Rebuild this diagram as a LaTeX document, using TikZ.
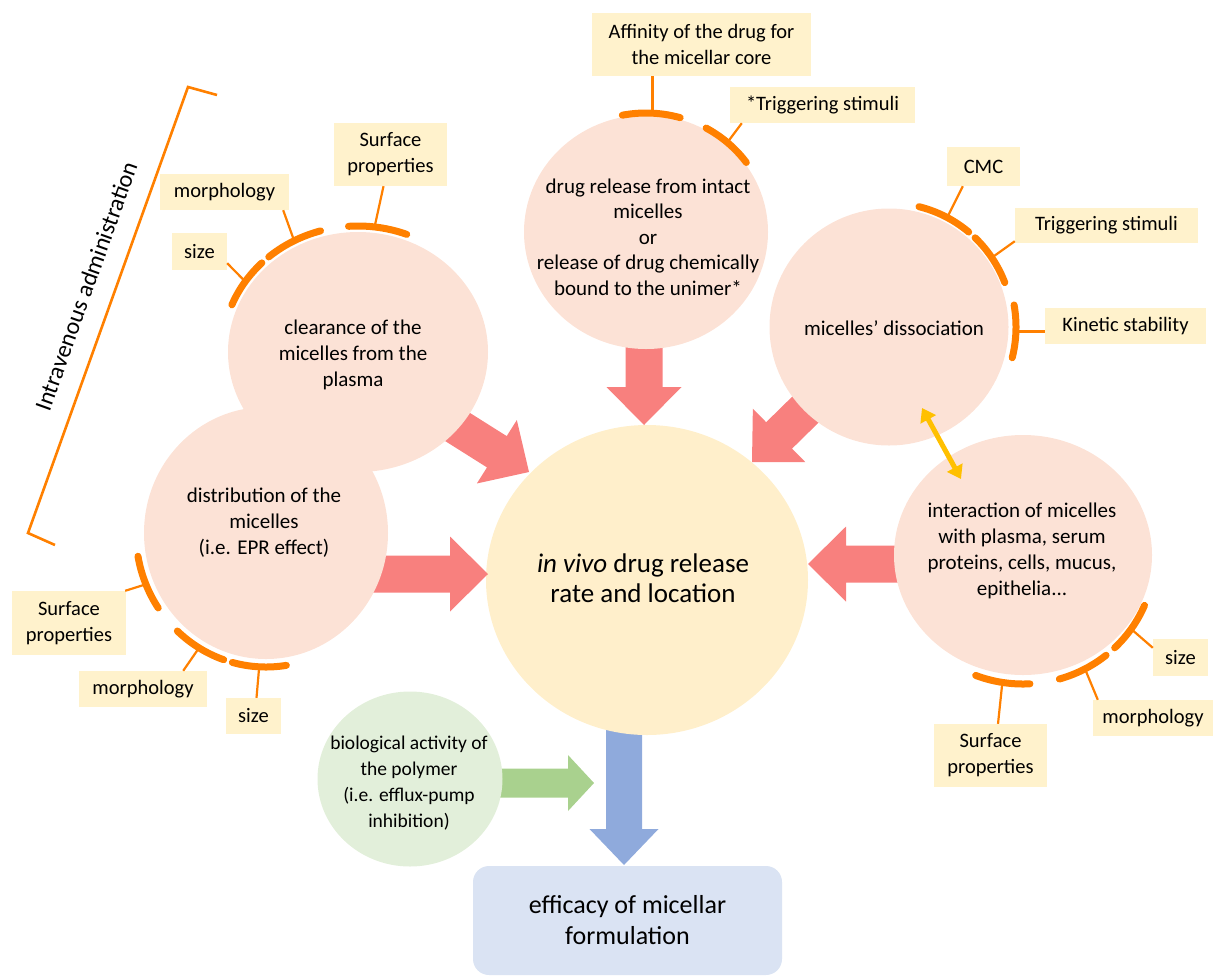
\documentclass[tikz,border=0pt]{standalone}
\usepackage{fontspec}
\setmainfont{Carlito}
\usetikzlibrary{shapes.geometric,arrows.meta,calc}
\definecolor{pinkc}{RGB}{252,226,214}
\definecolor{centc}{RGB}{255,239,203}
\definecolor{labc}{RGB}{255,242,204}
\definecolor{greenc}{RGB}{226,239,218}
\definecolor{bluec}{RGB}{218,227,243}
\definecolor{redarr}{RGB}{248,128,126}
\definecolor{grnarr}{RGB}{169,209,142}
\definecolor{bluarr}{RGB}{143,170,220}
\definecolor{orng}{RGB}{255,128,0}
\definecolor{yelarr}{RGB}{255,192,0}
\pgfdeclarelayer{lzero}\pgfdeclarelayer{lone}\pgfdeclarelayer{ltwo}
\pgfsetlayers{lzero,lone,ltwo,main}
% block arrow: #1 colour, #2 tail, #3 tip, #4 half shaft, #5 half head, #6 head length
\newcommand{\blockarrow}[6]{%
  \pgfmathanglebetweenpoints{\pgfpointanchor{#2}{center}}{\pgfpointanchor{#3}{center}}%
  \edef\baang{\pgfmathresult}%
  \pgfpointdiff{\pgfpointanchor{#2}{center}}{\pgfpointanchor{#3}{center}}%
  \pgfgetlastxy{\bax}{\bay}%
  \pgfmathsetmacro{\balen}{veclen(\bax,\bay)}%
  \begin{scope}[shift={(#3)},rotate=\baang]
    \fill[#1] (0,0) -- (-#6,#5) -- (-#6,#4) -- (-\balen,#4) -- (-\balen,-#4) -- (-#6,-#4) -- (-#6,-#5) -- cycle;
  \end{scope}}
% orange arc: cx, cy, rx, ry, a1, a2 (image angles)
\newcommand{\orarc}[6]{%
  \draw[arcst] plot[domain=#5:#6, samples=25, variable=\t] ({#1+#3*cos(\t)},{#2+#4*sin(\t)});}
\begin{document}
\begin{tikzpicture}[x=1pt,y=-1pt,
  bubble/.style={ellipse, fill=pinkc, draw=none, inner sep=0pt},
  ctext/.style={align=center, inner sep=0pt, font=\fontsize{21}{26}\selectfont},
  lab/.style={fill=labc, inner sep=0pt, align=center, font=\fontsize{20.5}{26}\selectfont},
  arcst/.style={draw=orng, line width=7pt, line cap=round, line join=round},
  lnk/.style={draw=orng, line width=2.2pt},
  brk/.style={draw=orng, line width=2.6pt, line join=miter},
  yarr/.style={draw=yelarr, line width=5pt, {Triangle[length=13pt,width=17pt]}-{Triangle[length=13pt,width=17pt]}}]
\useasboundingbox (0,0) rectangle (1213,975);

% ---------- lowest layers: blue arrow, central circle, block arrows
\begin{pgfonlayer}{lzero}
  \coordinate (bT) at (624,690);
  \coordinate (bH) at (624,865);
  \blockarrow{bluarr}{bT}{bH}{18}{34.5}{36}
\end{pgfonlayer}
\begin{pgfonlayer}{lone}
  \node[bubble, fill=centc, minimum width=322pt, minimum height=310pt] (core) at (647,580) {};
\end{pgfonlayer}
\begin{pgfonlayer}{ltwo}
  \coordinate (a1t) at (402,392); \coordinate (a1h) at (529,472);
  \coordinate (a2t) at (320,574); \coordinate (a2h) at (488,574);
  \coordinate (a3t) at (644,290); \coordinate (a3h) at (644,425);
  \coordinate (a4t) at (859,357); \coordinate (a4h) at (752,462);
  \coordinate (a5t) at (960,564); \coordinate (a5h) at (808,564);
  \coordinate (g1t) at (420,783); \coordinate (g1h) at (594,783);
  \blockarrow{redarr}{a1t}{a1h}{18.5}{37.5}{38}
  \blockarrow{redarr}{a2t}{a2h}{18.5}{37.5}{38}
  \blockarrow{redarr}{a3t}{a3h}{18.5}{37.5}{38}
  \blockarrow{redarr}{a4t}{a4h}{18.5}{37.5}{38}
  \blockarrow{redarr}{a5t}{a5h}{18.5}{37.5}{38}
  \blockarrow{grnarr}{g1t}{g1h}{14.5}{28}{26}
\end{pgfonlayer}

% ---------- circles
\node[bubble, minimum width=260pt, minimum height=240pt] (clear) at (358,352) {};
\node[bubble, minimum width=244pt, minimum height=252pt] (distr) at (266,533) {};
\node[bubble, minimum width=244pt, minimum height=234pt] (drug) at (646,232) {};
\node[bubble, minimum width=239pt, minimum height=237pt] (diss) at (889,327) {};
\node[bubble, minimum width=258pt, minimum height=240pt] (inter) at (1023,555) {};
\node[bubble, fill=greenc, minimum width=185pt, minimum height=175pt] (bio) at (410,779) {};
\node[fill=bluec, rounded corners=16pt, minimum width=309pt, minimum height=109pt, inner sep=0pt,
      align=center, font=\fontsize{26}{31}\selectfont] (eff) at (627.5,920.5) {efficacy of micellar\\formulation};

% ---------- circle texts
\node[ctext] (clear-t) at (353,355) {clearance of the\\micelles from the\\plasma};
\node[ctext] (distr-t) at (264,523) {distribution of the\\micelles\\(i.e. EPR effect)};
\node[ctext, font=\fontsize{21}{25.5}\selectfont] (drug-t) at (648,237) {drug release from intact\\micelles\\or\\release of drug chemically\\bound to the unimer*};
\node[ctext] (diss-t) at (894,328) {micelles’ dissociation};
\node[ctext] (inter-t) at (1022,551) {interaction of micelles\\with plasma, serum\\proteins, cells, mucus,\\epithelia...};
\node[ctext, font=\fontsize{19.5}{26}\selectfont] (bio-t) at (409,783) {biological activity of\\the polymer\\(i.e. efflux-pump\\inhibition)};
\node[ctext, font=\fontsize{27}{30}\selectfont] (core-t) at (643,578) {\textit{in vivo} drug release\\rate and location};

% ---------- yellow double arrow
\coordinate (y1) at (922,408);
\coordinate (y2) at (961,479);
\draw[yarr] (y1) -- (y2);

% ---------- bracket and its label
\draw[brk] (217,95) -- (188,87) -- (28,533) -- (55,545);
\node[rotate=70.3, inner sep=0pt, font=\fontsize{24}{28}\selectfont] (iv) at (86,286) {Intravenous administration};

% ---------- orange arcs
\orarc{646}{233}{124}{120}{-101}{-74}
\orarc{646}{233}{124}{120}{-61}{-36}
\orarc{358}{352}{136}{126}{-94}{-69}
\orarc{358}{352}{136}{126}{-131}{-106}
\orarc{358}{352}{136}{126}{-158}{-135}
\orarc{889}{327}{124}{124}{-76}{-50}
\orarc{889}{327}{124}{124}{-46}{-21}
\orarc{889}{327}{127}{127}{-10}{14}
\orarc{266}{533}{130}{134}{146}{170}
\orarc{266}{533}{130}{134}{109}{133}
\orarc{266}{533}{130}{134}{81}{105}
\orarc{1023}{555}{132}{129}{23}{46}
\orarc{1023}{555}{132}{129}{51}{74}
\orarc{1023}{555}{132}{129}{87}{111}

% ---------- attach points on the arcs
\coordinate (affA) at ({646+124*cos(-87)},{233+120*sin(-87)});
\coordinate (trgA) at ({646+124*cos(-49)},{233+120*sin(-49)});
\coordinate (srfCA) at ({358+136*cos(-83)},{352+126*sin(-83)});
\coordinate (mrCA) at ({358+136*cos(-118)},{352+126*sin(-118)});
\coordinate (szCA) at ({358+136*cos(-146)},{352+126*sin(-146)});
\coordinate (cmcA) at ({889+124*cos(-62)},{327+124*sin(-62)});
\coordinate (trg2A) at ({889+124*cos(-34)},{327+124*sin(-34)});
\coordinate (kinA) at ({889+127*cos(2)},{327+127*sin(2)});
\coordinate (srfDA) at ({266+130*cos(157.5)},{533+134*sin(157.5)});
\coordinate (mrDA) at ({266+130*cos(121)},{533+134*sin(121)});
\coordinate (szDA) at ({266+130*cos(93)},{533+134*sin(93)});
\coordinate (szIA) at ({1023+132*cos(35)},{555+129*sin(35)});
\coordinate (mrIA) at ({1023+132*cos(62)},{555+129*sin(62)});
\coordinate (srfIA) at ({1023+132*cos(99)},{555+129*sin(99)});

% ---------- label boxes
\node[lab, minimum width=219pt, minimum height=63pt] (aff) at (701.5,44.5) {Affinity of the drug for\\the micellar core};
\node[lab, minimum width=185pt, minimum height=36pt] (trgD) at (822.5,105) {*Triggering stimuli};
\node[lab, minimum width=113pt, minimum height=63pt] (srfC) at (390.5,154.5) {Surface\\properties};
\node[lab, minimum width=129pt, minimum height=36pt] (mrC) at (224.5,192) {morphology};
\node[lab, minimum width=55pt, minimum height=37pt] (szC) at (199.5,251.5) {size};
\node[lab, minimum width=73pt, minimum height=39pt] (cmc) at (983.5,166.5) {CMC};
\node[lab, minimum width=183pt, minimum height=35pt] (trgS) at (1106.5,225.5) {Triggering stimuli};
\node[lab, minimum width=161pt, minimum height=36pt] (kin) at (1125.5,326) {Kinetic stability};
\node[lab, minimum width=114pt, minimum height=64pt] (srfD) at (69,623) {Surface\\properties};
\node[lab, minimum width=128pt, minimum height=36pt] (mrD) at (143,689) {morphology};
\node[lab, minimum width=55pt, minimum height=36pt] (szD) at (253.5,716) {size};
\node[lab, minimum width=55pt, minimum height=37pt] (szI) at (1180.5,657.5) {size};
\node[lab, minimum width=120pt, minimum height=36pt] (mrI) at (1153,718) {morphology};
\node[lab, minimum width=113pt, minimum height=63pt] (srfI) at (990.5,755.5) {Surface\\properties};

% ---------- connector lines
\draw[lnk] (aff.south -| affA) -- (affA);
\draw[lnk] ([xshift=12pt]trgD.south west) -- (trgA);
\draw[lnk] ([xshift=-7pt]srfC.south) -- (srfCA);
\draw[lnk] ([xshift=-6pt]mrC.south east) -- (mrCA);
\draw[lnk] ([yshift=7pt]szC.south east) -- (szCA);
\draw[lnk] ([xshift=16pt]cmc.south west) -- (cmcA);
\draw[lnk] ([yshift=2pt]trgS.south west) -- (trg2A);
\draw[lnk] (kinA -| kin.west) -- (kinA);
\draw[lnk] ([xshift=-1pt]srfD.north east) -- (srfDA);
\draw[lnk] ([xshift=-24pt]mrD.north east) -- (mrDA);
\draw[lnk] ([xshift=3pt]szD.north) -- (szDA);
\draw[lnk] ([yshift=-9pt]szI.north west) -- (szIA);
\draw[lnk] ([xshift=5pt]mrI.north west) -- (mrIA);
\draw[lnk] ([xshift=7.5pt]srfI.north) -- (srfIA);
\end{tikzpicture}
\end{document}
